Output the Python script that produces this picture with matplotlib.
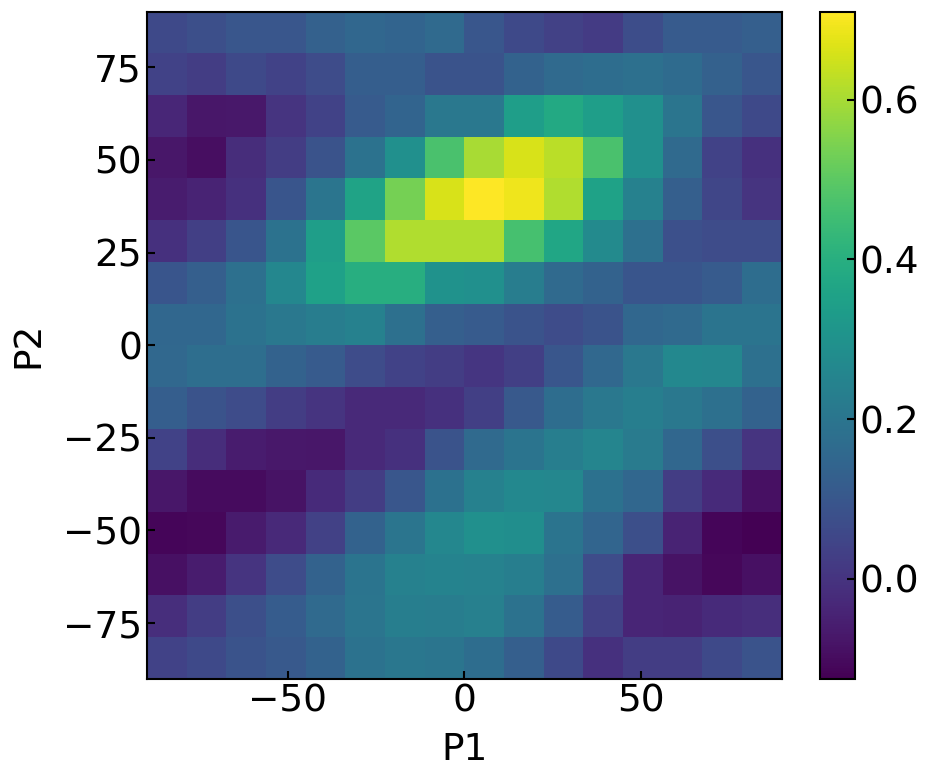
import numpy as np
import matplotlib
matplotlib.use('Agg')
import matplotlib.pyplot as plt

# bin edges (degrees), 16 x 16 grid
p1_edges = np.linspace(-90, 90, 17)
p2_edges = np.linspace(-90, 90, 17)

# values, rows from top (P2 = 90) to bottom (P2 = -90)
row_p2_84 = [0.06, 0.075, 0.10, 0.10, 0.13, 0.15, 0.14, 0.16, 0.10, 0.06, 0.035, 0.02, 0.07, 0.11, 0.11, 0.125]
row_p2_73 = [0.04, 0.025, 0.06, 0.04, 0.065, 0.12, 0.12, 0.09, 0.09, 0.135, 0.16, 0.17, 0.18, 0.165, 0.13, 0.10]
row_p2_62 = [-0.035, -0.075, -0.07, 0.0, 0.04, 0.11, 0.14, 0.21, 0.21, 0.34, 0.38, 0.34, 0.29, 0.20, 0.10, 0.06]
row_p2_51 = [-0.075, -0.095, -0.02, 0.025, 0.09, 0.19, 0.29, 0.47, 0.60, 0.66, 0.625, 0.47, 0.29, 0.16, 0.04, -0.01]
row_p2_39 = [-0.06, -0.045, -0.01, 0.095, 0.20, 0.36, 0.535, 0.66, 0.71, 0.69, 0.61, 0.355, 0.24, 0.125, 0.05, 0.0]
row_p2_28 = [-0.01, 0.03, 0.095, 0.19, 0.34, 0.495, 0.61, 0.61, 0.61, 0.465, 0.37, 0.27, 0.18, 0.08, 0.065, 0.065]
row_p2_17 = [0.095, 0.125, 0.18, 0.26, 0.35, 0.40, 0.40, 0.30, 0.29, 0.225, 0.16, 0.135, 0.095, 0.095, 0.11, 0.17]
row_p2_6 = [0.15, 0.15, 0.19, 0.21, 0.225, 0.24, 0.18, 0.125, 0.11, 0.09, 0.065, 0.09, 0.15, 0.16, 0.195, 0.195]
row_p2_m6 = [0.155, 0.175, 0.175, 0.135, 0.11, 0.065, 0.04, 0.025, 0.005, 0.03, 0.10, 0.155, 0.21, 0.265, 0.26, 0.18]
row_p2_m17 = [0.12, 0.09, 0.065, 0.025, 0.0, -0.03, -0.03, -0.01, 0.03, 0.105, 0.17, 0.21, 0.23, 0.21, 0.18, 0.135]
row_p2_m28 = [0.04, -0.02, -0.06, -0.07, -0.075, -0.03, -0.01, 0.09, 0.16, 0.195, 0.23, 0.255, 0.22, 0.15, 0.075, 0.0]
row_p2_m39 = [-0.075, -0.10, -0.10, -0.085, -0.025, 0.025, 0.10, 0.185, 0.24, 0.265, 0.26, 0.185, 0.15, 0.025, -0.025, -0.09]
row_p2_m51 = [-0.115, -0.11, -0.065, -0.03, 0.035, 0.135, 0.20, 0.26, 0.29, 0.285, 0.195, 0.145, 0.075, -0.045, -0.115, -0.125]
row_p2_m62 = [-0.09, -0.06, 0.0, 0.065, 0.135, 0.195, 0.24, 0.25, 0.245, 0.23, 0.18, 0.065, -0.04, -0.085, -0.11, -0.09]
row_p2_m73 = [-0.015, 0.025, 0.075, 0.115, 0.16, 0.20, 0.23, 0.225, 0.235, 0.19, 0.115, 0.035, -0.04, -0.045, -0.025, -0.015]
row_p2_m84 = [0.04, 0.06, 0.09, 0.105, 0.135, 0.19, 0.205, 0.20, 0.17, 0.125, 0.06, -0.01, 0.025, 0.025, 0.06, 0.09]

grid = np.array([row_p2_84, row_p2_73, row_p2_62, row_p2_51, row_p2_39, row_p2_28,
                 row_p2_17, row_p2_6, row_p2_m6, row_p2_m17, row_p2_m28, row_p2_m39,
                 row_p2_m51, row_p2_m62, row_p2_m73, row_p2_m84])[::-1]

plt.rcParams['font.size'] = 27

fig = plt.figure(figsize=(9.36, 7.81), dpi=100)
ax = fig.add_axes([0.157, 0.131, 0.678, 0.854])
cax = fig.add_axes([0.876, 0.131, 0.037, 0.854])

mesh = ax.pcolormesh(p1_edges, p2_edges, grid, cmap='viridis')
ax.set_xlim(-90, 90)
ax.set_ylim(-90, 90)
ax.set_xticks([-50, 0, 50])
ax.set_yticks([-75, -50, -25, 0, 25, 50, 75])
ax.tick_params(direction='in', length=6, width=1.5)
for s in ax.spines.values():
    s.set_linewidth(1.5)
ax.set_xlabel('P1', labelpad=9)
ax.set_ylabel('P2', labelpad=12)

cb = fig.colorbar(mesh, cax=cax)
cb.set_ticks([0.0, 0.2, 0.4, 0.6])
cb.ax.tick_params(direction='in', length=6, width=1.5)
cb.outline.set_linewidth(1.5)

fig.savefig('out.png', dpi=100)
